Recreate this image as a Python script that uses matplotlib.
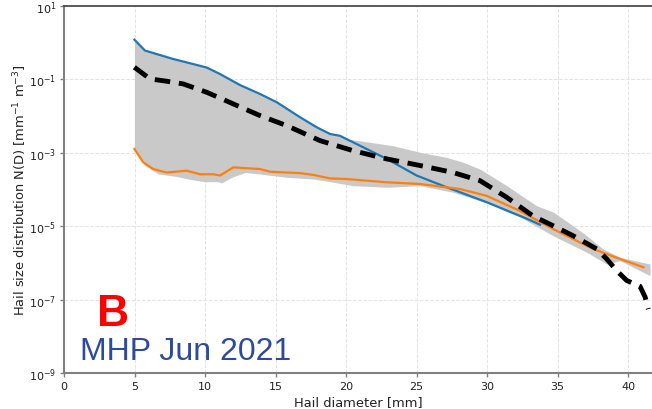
import numpy as np
import matplotlib.pyplot as plt

# Hail size distributions, N(D) in mm^-1 m^-3
d_blue = [4.99, 5.74, 6.57, 7.73, 8.70, 10.12, 11.06, 12.48, 13.90, 15.09, 16.74,
          17.92, 18.87, 19.57, 20.99, 22.89, 25.01, 27.14, 29.98, 32.82, 33.76]
n_blue = [1.21, 0.61, 0.49, 0.36, 0.29, 0.21, 0.14, 0.070, 0.040, 0.0238, 0.0093,
          0.00495, 0.00325, 0.0029, 0.00156, 6.8e-4, 2.4e-4, 1.15e-4, 4.5e-5, 1.6e-5, 1.1e-5]

d_orange = [4.99, 5.62, 6.33, 7.28, 8.70, 9.65, 10.59, 11.06, 12.01, 12.96, 13.90,
            14.61, 15.79, 16.74, 17.68, 18.87, 20.05, 22.89, 25.25, 28.09, 29.98,
            32.34, 34.68, 37.52, 39.43, 41.09]
n_orange = [1.27e-3, 5.5e-4, 3.6e-4, 2.9e-4, 3.25e-4, 2.6e-4, 2.6e-4, 2.4e-4, 4.0e-4,
            3.8e-4, 3.6e-4, 3.05e-4, 2.9e-4, 2.8e-4, 2.5e-4, 2.0e-4, 1.93e-4, 1.57e-4,
            1.41e-4, 1.03e-4, 6.7e-5, 2.6e-5, 8.4e-6, 2.4e-6, 1.28e-6, 7.6e-7]

d_median = [4.99, 6.10, 7.28, 8.46, 10.12, 12.01, 13.90, 15.79, 18.16, 20.50, 22.89,
            25.25, 27.59, 29.50, 31.40, 33.26, 34.68, 36.10, 37.78, 38.49, 39.20,
            39.91, 40.85, 41.21, 41.44]
n_median = [0.214, 0.103, 0.089, 0.075, 0.0445, 0.0214, 0.0103, 0.0055, 0.00214,
            0.00114, 6.8e-4, 4.5e-4, 2.9e-4, 1.74e-4, 6.1e-5, 1.9e-5, 1.03e-5, 5.5e-6,
            2.4e-6, 1.28e-6, 6.1e-7, 3.3e-7, 2.3e-7, 1.18e-7, 5.5e-8]

# envelope of all samples
d_hi = [4.99, 5.74, 6.57, 7.73, 8.70, 10.12, 11.06, 12.48, 13.90, 15.09, 16.74,
        17.92, 18.87, 19.57, 20.05, 21.70, 23.33, 25.25, 27.14, 28.30, 29.50,
        31.40, 33.52, 34.68, 36.10, 37.07, 38.23, 39.43, 41.56]
n_hi = [1.21, 0.61, 0.49, 0.36, 0.29, 0.21, 0.14, 0.070, 0.040, 0.0238, 0.0093,
        0.00495, 0.00325, 0.0029, 2.38e-3, 1.93e-3, 1.56e-3, 1.03e-3, 7.5e-4, 5.5e-4,
        3.6e-4, 1.27e-4, 3.6e-5, 2.44e-5, 1.03e-5, 5.5e-6, 2.4e-6, 1.42e-6, 9.3e-7]
d_lo = [4.99, 5.74, 6.69, 7.87, 9.06, 10.00, 10.94, 11.18, 11.89, 12.84, 13.90,
        15.79, 17.68, 18.87, 20.50, 22.89, 25.25, 27.59, 29.98, 32.34, 34.68,
        37.07, 38.49, 39.43, 41.56]
n_lo = [1.2e-3, 4.5e-4, 2.64e-4, 2.3e-4, 1.85e-4, 1.63e-4, 1.63e-4, 1.5e-4, 2.15e-4,
        2.9e-4, 2.64e-4, 2.15e-4, 1.93e-4, 1.63e-4, 1.27e-4, 1.15e-4, 1.27e-4, 8.4e-5,
        4.3e-5, 1.78e-5, 5.5e-6, 1.95e-6, 9.3e-7, 1.15e-6, 4.5e-7]

# common grid for the shaded band (log interpolation)
d_band = np.linspace(4.99, 41.56, 300)
band_hi = 10 ** np.interp(d_band, d_hi, np.log10(n_hi))
band_lo = 10 ** np.interp(d_band, d_lo, np.log10(n_lo))

fig = plt.figure(figsize=(6.52, 4.10), dpi=100)
ax = fig.add_axes([0.0982, 0.0878, 0.9018, 0.8952])

ax.fill_between(d_band, band_lo, band_hi, color='#c9c9c9', lw=0)
ax.plot(d_blue, n_blue, color='#1f77b4', lw=1.6)
ax.plot(d_orange, n_orange, color='#ff7f0e', lw=1.6)
ax.plot(d_median, n_median, color='black', lw=3.5, ls=(0, (3.2, 1.8)))

ax.set_yscale('log')
ax.set_xlim(0, 41.7)
ax.set_ylim(1e-9, 1e1)
ax.set_xticks(range(0, 45, 5))
ax.set_yticks([1e-9, 1e-7, 1e-5, 1e-3, 1e-1, 1e1])
ax.minorticks_off()
ax.grid(True, ls='--', color='#e3e3e3', lw=0.7)
ax.set_axisbelow(True)

for side in ['left', 'bottom']:
    ax.spines[side].set_color('#808080')
    ax.spines[side].set_linewidth(1.5)
ax.spines['top'].set_color('#404040')
ax.spines['top'].set_linewidth(1.2)
ax.spines['right'].set_visible(False)
ax.tick_params(labelsize=8, length=3, width=1, colors='#222222', pad=2.5)
ax.tick_params(color='#808080')

ax.set_xlabel('Hail diameter [mm]', fontsize=9.4, color='#222222', labelpad=3)
ax.set_ylabel('Hail size distribution N(D) [mm$^{-1}$ m$^{-3}$]', fontsize=9.4,
              color='#222222', labelpad=0)

ax.text(0.083, 0.131, 'B', transform=ax.transAxes, color='red', fontsize=32,
        fontweight='bold', family='Liberation Sans', ha='center', va='baseline')
ax.text(0.027, 0.038, 'MHP Jun 2021', transform=ax.transAxes, color='#2e4b9b',
        fontsize=23, family='Liberation Sans', ha='left', va='baseline')

fig.savefig('out.png', dpi=100)
